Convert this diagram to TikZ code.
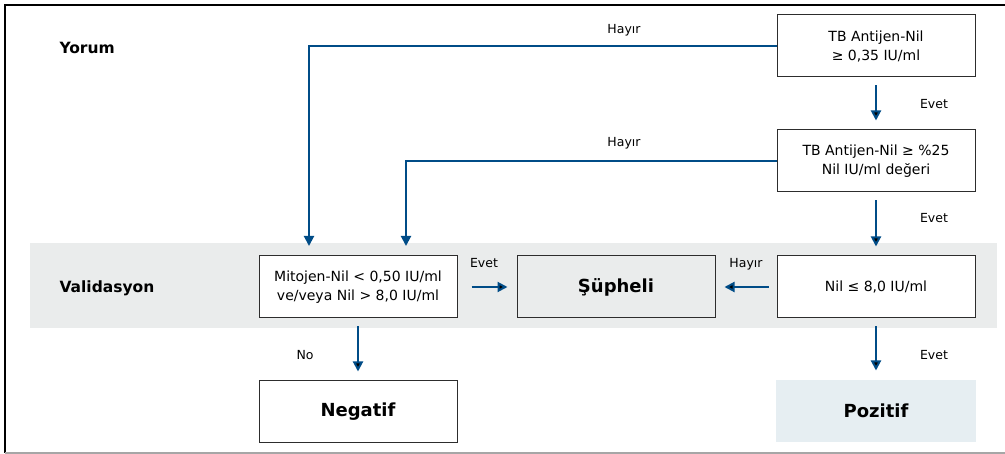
\documentclass[tikz,border=0pt]{standalone}
\usepackage{fontspec}
\setsansfont{DejaVu Sans}
\usepackage{tikz}
\usetikzlibrary{arrows.meta}
\definecolor{colarr}{RGB}{0,76,135}
\definecolor{colband}{RGB}{234,236,236}
\definecolor{colpoz}{RGB}{230,238,242}
\definecolor{colbox}{RGB}{45,45,45}
\tikzstyle{test}=[draw=colbox, line width=1pt, fill=white, minimum width=198pt, minimum height=62pt, align=center, inner sep=0pt]
\tikzstyle{res}=[test, font=\sffamily\bfseries\fontsize{18}{20}\selectfont]
\tikzstyle{lbl}=[font=\sffamily\fontsize{12.5}{14}\selectfont]
\tikzstyle{head}=[anchor=west, font=\sffamily\bfseries\fontsize{15.5}{17}\selectfont]
\tikzstyle{arr}=[->, draw=colarr, line width=2pt, shorten <=8pt, shorten >=9pt]

\begin{document}
\begin{tikzpicture}[x=1pt,y=-1pt,>={Triangle[length=10pt,width=10pt]},font=\sffamily\fontsize{14}{19}\selectfont]
    \useasboundingbox (0,0) rectangle (1005,454);
    % frame and band
    \draw[line width=1.5pt] (1005,5) -- (5,5) -- (5,453);
    \draw[line width=1.2pt, draw=gray!70] (5,453) -- (1005,453);
    \fill[colband] (30,243) rectangle (997,328);
    \node[head] (yor) at (56,48) {Yorum};
    \node[head] (val) at (56,288) {Validasyon};
    % boxes
    \node [test] (a) at (876,46) {TB Antijen-Nil\\≥ 0,35 IU/ml};
    \node [test] (b) at (876,161) {TB Antijen-Nil ≥ \%25\\Nil IU/ml değeri};
    \node [test] (c) at (876,287) {Nil ≤ 8,0 IU/ml};
    \node [res, fill=colband] (s) at (616,287) {Şüpheli};
    \node [test] (m) at (358,287) {Mitojen-Nil < 0,50 IU/ml\\ve/veya Nil > 8,0 IU/ml};
    \node [res] (n) at (358,412) {Negatif};
    \node [res, draw=none, fill=colpoz, minimum width=200pt] (p) at (876,411) {Pozitif};
    \coordinate (k1) at (309,256);
    \coordinate (k2) at (406,256);
    % connectors
    \draw[arr, shorten <=0pt, shorten >=10pt] (a.west) -| (k1);
    \draw[arr, shorten <=0pt, shorten >=10pt] (b.west) -| (k2);
    \path[arr]
    (a) edge (b)
    (b) edge (c)
    (c) edge (p)
    (c) edge (s)
    (m) edge[shorten <=14pt] (s)
    (m) edge (n);
    % labels
    \node[lbl] (h1) at (624,30) {Hayır};
    \node[lbl] (h2) at (624,143) {Hayır};
    \node[lbl] (h3) at (746,264) {Hayır};
    \node[lbl] (e1) at (934,104) {Evet};
    \node[lbl] (e2) at (934,218) {Evet};
    \node[lbl] (e3) at (934,355) {Evet};
    \node[lbl] (e4) at (484,263) {Evet};
    \node[lbl] (no) at (305,355) {No};
\end{tikzpicture}
\end{document}
